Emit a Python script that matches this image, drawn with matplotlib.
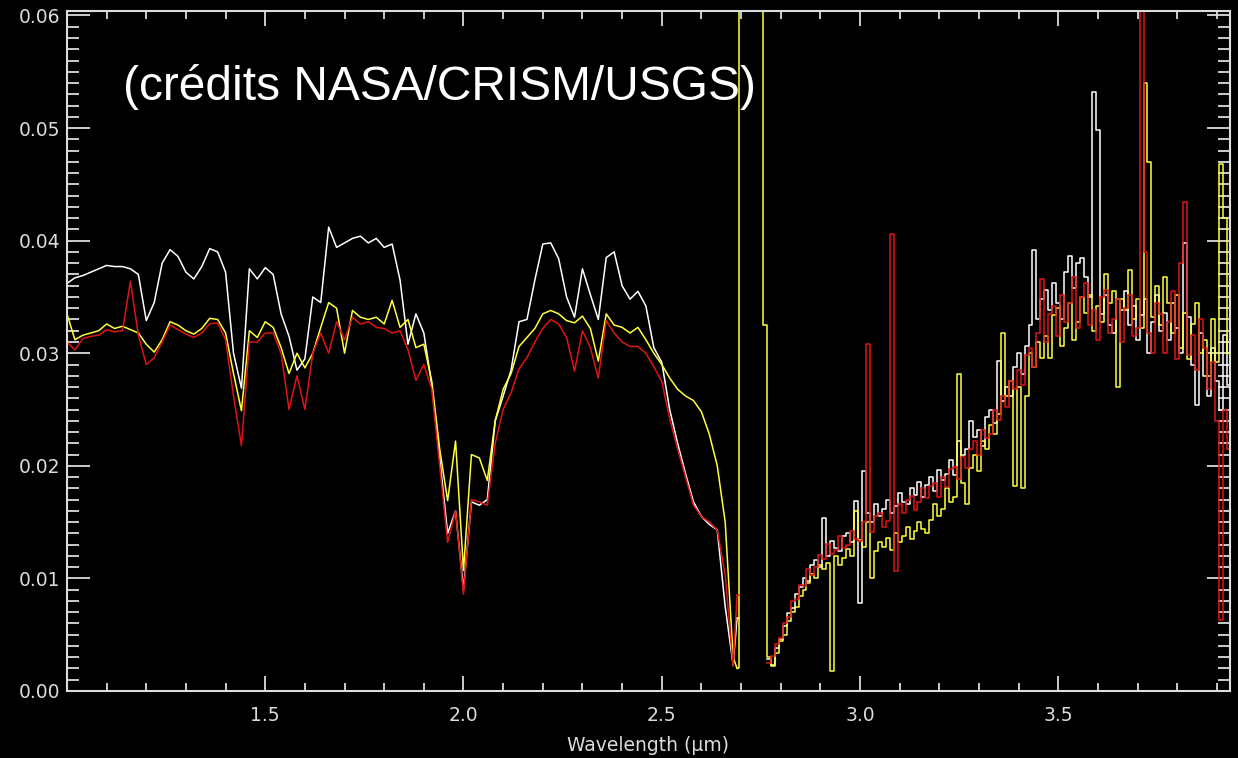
import numpy as np
import matplotlib
matplotlib.use("Agg")
import matplotlib.pyplot as plt
from matplotlib.ticker import MultipleLocator, FormatStrFormatter

nan = np.nan

# wavelength grids (µm): coarse sampling up to 2.68, fine sampling beyond
wl_vnir = np.round(np.arange(1.00, 2.69, 0.02), 2)
wl_ir = np.round(np.arange(2.69, 3.935, 0.01), 2)

white_vnir = [
    0.0362, 0.0367, 0.0369, 0.0372, 0.0375, 0.0378, 0.0377, 0.0377, 0.0375, 0.0370,
    0.0329, 0.0345, 0.0380, 0.0392, 0.0386, 0.0372, 0.0366, 0.0377, 0.0393, 0.0390,
    0.0372, 0.0300, 0.0269, 0.0375, 0.0366, 0.0376, 0.0370, 0.0335, 0.0315, 0.0285,
    0.0295, 0.0350, 0.0345, 0.0412, 0.0394, 0.0398, 0.0402, 0.0404, 0.0398, 0.0402,
    0.0394, 0.0397, 0.0365, 0.0308, 0.0335, 0.0318, 0.0272, 0.0207, 0.0140, 0.0160,
    0.0090, 0.0168, 0.0165, 0.0170, 0.0240, 0.0262, 0.0285, 0.0328, 0.0330, 0.0365,
    0.0397, 0.0398, 0.0384, 0.0350, 0.0332, 0.0375, 0.0352, 0.0330, 0.0385, 0.0390,
    0.0360, 0.0348, 0.0355, 0.0342, 0.0305, 0.0292, 0.0250, 0.0220, 0.0193, 0.0168,
    0.0155, 0.0148, 0.0143, 0.0075, 0.0023,
]
yellow_vnir = [
    0.0335, 0.0312, 0.0316, 0.0318, 0.0320, 0.0326, 0.0322, 0.0324, 0.0321, 0.0318,
    0.0308, 0.0301, 0.0312, 0.0328, 0.0325, 0.0320, 0.0317, 0.0322, 0.0331, 0.0330,
    0.0318, 0.0282, 0.0249, 0.0320, 0.0314, 0.0328, 0.0323, 0.0305, 0.0282, 0.0300,
    0.0287, 0.0300, 0.0323, 0.0345, 0.0340, 0.0300, 0.0338, 0.0332, 0.0330, 0.0332,
    0.0326, 0.0347, 0.0323, 0.0330, 0.0305, 0.0308, 0.0275, 0.0215, 0.0169, 0.0222,
    0.0107, 0.0210, 0.0207, 0.0187, 0.0240, 0.0268, 0.0282, 0.0306, 0.0314, 0.0322,
    0.0335, 0.0338, 0.0335, 0.0329, 0.0327, 0.0333, 0.0322, 0.0293, 0.0335, 0.0325,
    0.0323, 0.0318, 0.0323, 0.0312, 0.0300, 0.0290, 0.0278, 0.0268, 0.0262, 0.0258,
    0.0248, 0.0228, 0.0200, 0.0150, 0.0030,
]
red_vnir = [
    0.0310, 0.0303, 0.0313, 0.0315, 0.0316, 0.0321, 0.0319, 0.0320, 0.0364, 0.0316,
    0.0290, 0.0296, 0.0310, 0.0325, 0.0321, 0.0317, 0.0314, 0.0318, 0.0326, 0.0327,
    0.0312, 0.0262, 0.0218, 0.0310, 0.0310, 0.0318, 0.0318, 0.0300, 0.0250, 0.0280,
    0.0250, 0.0300, 0.0318, 0.0300, 0.0328, 0.0312, 0.0332, 0.0326, 0.0328, 0.0323,
    0.0322, 0.0318, 0.0320, 0.0303, 0.0276, 0.0290, 0.0268, 0.0200, 0.0132, 0.0160,
    0.0086, 0.0170, 0.0168, 0.0165, 0.0220, 0.0250, 0.0265, 0.0286, 0.0296, 0.0310,
    0.0322, 0.0330, 0.0326, 0.0314, 0.0284, 0.0320, 0.0305, 0.0278, 0.0329, 0.0318,
    0.0310, 0.0306, 0.0306, 0.0300, 0.0288, 0.0275, 0.0242, 0.0215, 0.0190, 0.0165,
    0.0155, 0.0150, 0.0143, 0.0103, 0.0022,
]

white_ir = [
    0.0065, nan, nan, nan, nan, nan, nan, nan,
    0.0028, 0.0023, 0.0038, 0.0046, 0.0058, 0.0069, 0.0074, 0.0086, 0.0092, 0.0100,
    0.0098, 0.0112, 0.0116, 0.0110, 0.0154, 0.0120, 0.0133, 0.0127, 0.0124, 0.0138,
    0.0140, 0.0132, 0.0169, 0.0078, 0.0195, 0.0158, 0.0150, 0.0166, 0.0155, 0.0162,
    0.0170, 0.0158, 0.0164, 0.0176, 0.0168, 0.0166, 0.0180, 0.0174, 0.0186, 0.0172,
    0.0183, 0.0190, 0.0178, 0.0196, 0.0187, 0.0193, 0.0205, 0.0192, 0.0222, 0.0210,
    0.0215, 0.0240, 0.0226, 0.0232, 0.0218, 0.0243, 0.0250, 0.0238, 0.0293, 0.0258,
    0.0270, 0.0262, 0.0288, 0.0300, 0.0282, 0.0306, 0.0325, 0.0392, 0.0330, 0.0348,
    0.0356, 0.0338, 0.0362, 0.0345, 0.0330, 0.0372, 0.0386, 0.0358, 0.0380, 0.0385,
    0.0368, 0.0350, 0.0532, 0.0498, 0.0335, 0.0352, 0.0325, 0.0318, 0.0348, 0.0338,
    0.0355, 0.0325, 0.0342, 0.0312, 0.0334, 0.0348, 0.0300, 0.0328, 0.0352, 0.0320,
    0.0336, 0.0312, 0.0345, 0.0322, 0.0300, 0.0398, 0.0332, 0.0290, 0.0254, 0.0318,
    0.0280, 0.0262, 0.0305, 0.0275, 0.0250, 0.0316, 0.0272,
]
yellow_ir = [
    0.0020, 0.0800, 0.0800, 0.0800, 0.0800, 0.0800, 0.0800, 0.0325,
    0.0030, 0.0022, 0.0034, 0.0044, 0.0050, 0.0062, 0.0070, 0.0075, 0.0084, 0.0090,
    0.0096, 0.0104, 0.0100, 0.0112, 0.0108, 0.0114, 0.0018, 0.0120, 0.0112, 0.0118,
    0.0126, 0.0120, 0.0160, 0.0134, 0.0128, 0.0150, 0.0100, 0.0124, 0.0132, 0.0128,
    0.0136, 0.0125, 0.0140, 0.0132, 0.0138, 0.0146, 0.0135, 0.0142, 0.0150, 0.0144,
    0.0140, 0.0152, 0.0166, 0.0155, 0.0162, 0.0180, 0.0168, 0.0172, 0.0282, 0.0185,
    0.0166, 0.0198, 0.0210, 0.0195, 0.0222, 0.0215, 0.0236, 0.0228, 0.0246, 0.0318,
    0.0262, 0.0275, 0.0182, 0.0270, 0.0180, 0.0262, 0.0300, 0.0288, 0.0310, 0.0296,
    0.0315, 0.0296, 0.0334, 0.0340, 0.0306, 0.0322, 0.0345, 0.0312, 0.0328, 0.0350,
    0.0336, 0.0352, 0.0320, 0.0342, 0.0328, 0.0370, 0.0345, 0.0355, 0.0270, 0.0348,
    0.0338, 0.0374, 0.0330, 0.0348, 0.0322, 0.0540, 0.0470, 0.0332, 0.0360, 0.0325,
    0.0368, 0.0345, 0.0318, 0.0352, 0.0305, 0.0336, 0.0295, 0.0326, 0.0345, 0.0300,
    0.0312, 0.0280, 0.0330, 0.0292, 0.0468, 0.0420, 0.0300,
]
red_ir = [
    0.0085, nan, nan, nan, nan, nan, nan, nan,
    0.0025, 0.0031, 0.0042, 0.0047, 0.0060, 0.0066, 0.0080, 0.0082, 0.0094, 0.0093,
    0.0108, 0.0103, 0.0110, 0.0121, 0.0117, 0.0131, 0.0122, 0.0125, 0.0138, 0.0127,
    0.0130, 0.0142, 0.0135, 0.0133, 0.0150, 0.0308, 0.0141, 0.0155, 0.0158, 0.0146,
    0.0151, 0.0406, 0.0107, 0.0166, 0.0158, 0.0170, 0.0173, 0.0161, 0.0168, 0.0180,
    0.0171, 0.0182, 0.0185, 0.0172, 0.0190, 0.0181, 0.0197, 0.0199, 0.0188, 0.0208,
    0.0198, 0.0215, 0.0222, 0.0210, 0.0232, 0.0225, 0.0228, 0.0250, 0.0241, 0.0262,
    0.0252, 0.0275, 0.0268, 0.0285, 0.0272, 0.0298, 0.0305, 0.0288, 0.0318, 0.0366,
    0.0310, 0.0335, 0.0342, 0.0315, 0.0352, 0.0328, 0.0345, 0.0368, 0.0322, 0.0350,
    0.0362, 0.0325, 0.0338, 0.0312, 0.0350, 0.0356, 0.0318, 0.0330, 0.0348, 0.0310,
    0.0340, 0.0352, 0.0315, 0.0322, 0.0620, 0.0390, 0.0318, 0.0300, 0.0345, 0.0335,
    0.0300, 0.0328, 0.0355, 0.0295, 0.0380, 0.0434, 0.0298, 0.0316, 0.0285, 0.0330,
    0.0305, 0.0268, 0.0292, 0.0240, 0.0063, 0.0250, 0.0215,
]

spectra = [
    (white_vnir, white_ir, "#ffffff"),
    (yellow_vnir, yellow_ir, "#ffff3a"),
    (red_vnir, red_ir, "#e01414"),
]

fg = "#dcdcdc"
fig = plt.figure(figsize=(12.38, 7.58), dpi=100, facecolor="black")
ax = fig.add_axes([0.0541, 0.0884, 0.9394, 0.8971], facecolor="black")

for vnir, ir, col in spectra:
    # short-wave part as a plain line (joined to the first long-wave sample),
    # long-wave part in histogram mode
    ax.plot(np.append(wl_vnir, wl_ir[0]), np.append(vnir, ir[0]),
            color=col, lw=1.1)
    ax.plot(wl_ir, ir, color=col, lw=1.1, drawstyle="steps-mid")

ax.set_xlim(1.0, 3.933)
ax.set_ylim(0.0, 0.0604)

ax.set_xticks([1.5, 2.0, 2.5, 3.0, 3.5])
ax.xaxis.set_minor_locator(MultipleLocator(0.1))
ax.yaxis.set_major_locator(MultipleLocator(0.01))
ax.yaxis.set_minor_locator(MultipleLocator(0.001))
ax.xaxis.set_major_formatter(FormatStrFormatter("%.1f"))
ax.yaxis.set_major_formatter(FormatStrFormatter("%.2f"))

ax.tick_params(which="both", direction="in", top=True, right=True,
               color=fg, labelcolor=fg, labelsize=13.5)
ax.tick_params(axis="x", which="major", length=11, width=1.3, pad=11)
ax.tick_params(axis="x", which="minor", length=5.5, width=1.3)
ax.tick_params(axis="y", which="major", length=16.5, width=1.3, pad=5)
ax.tick_params(axis="y", which="minor", length=8.5, width=1.3)
for spine in ax.spines.values():
    spine.set_color(fg)
    spine.set_linewidth(1.5)

ax.set_xlabel("Wavelength (μm)", color=fg, fontsize=13.5, labelpad=8)

fig.text(123 / 1238, 1 - 100 / 758, "(crédits NASA/CRISM/USGS)",
         color="white", fontsize=34.5, family="Liberation Sans", va="baseline")

fig.savefig("out.png", dpi=100, facecolor="black")
